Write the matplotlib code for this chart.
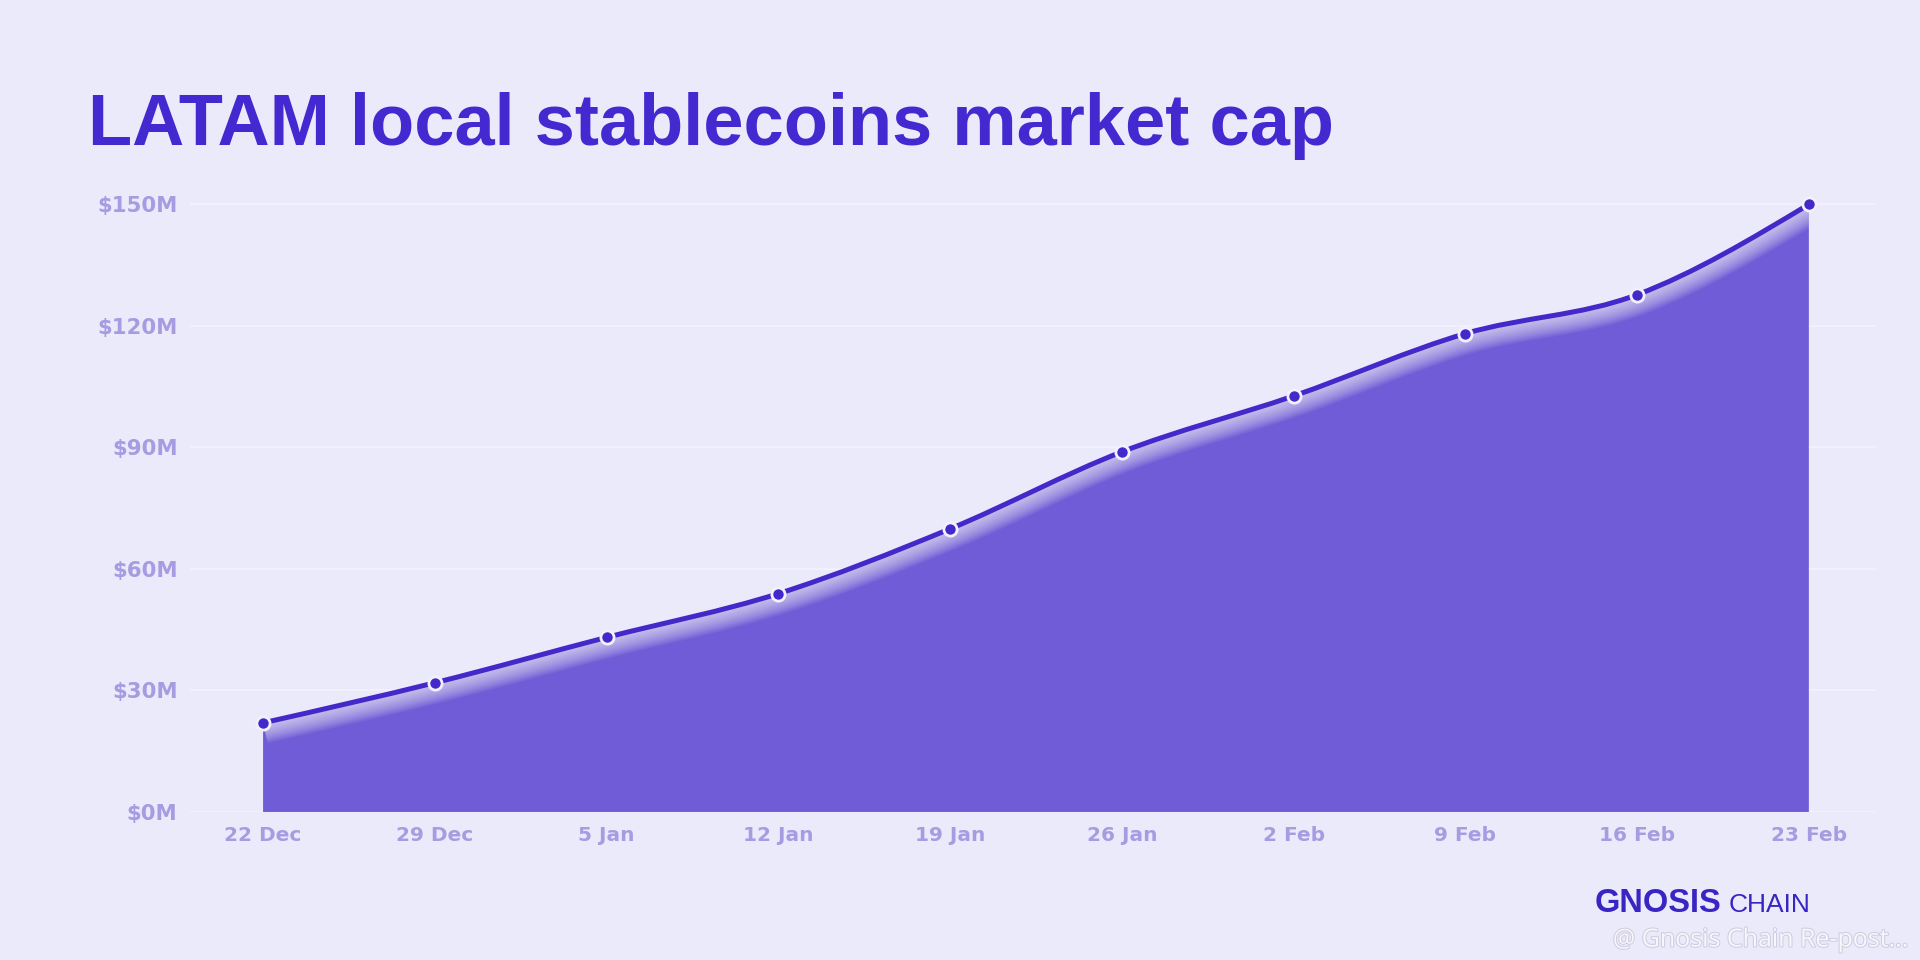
import numpy as np
import matplotlib
matplotlib.use("Agg")
import matplotlib.pyplot as plt
import matplotlib.patheffects as pe
from matplotlib.path import Path
from matplotlib.patches import PathPatch

# ---- data ----
dates = ["22 Dec", "29 Dec", "5 Jan", "12 Jan", "19 Jan", "26 Jan",
         "2 Feb", "9 Feb", "16 Feb", "23 Feb"]
market_cap_musd = [22.0, 31.9, 43.1, 53.9, 69.9, 88.9, 102.7, 118.1, 127.7, 150.0]
y_ticks = [0, 30, 60, 90, 120, 150]
y_tick_labels = ["$0M", "$30M", "$60M", "$90M", "$120M", "$150M"]
title = "LATAM local stablecoins market cap"

BG = "#ebeafb"
FILL = "#705cd6"
LINE = "#4428c9"
TICK = "#a79be2"
TITLE_C = "#4429d0"

x = np.arange(len(dates), dtype=float)
y = np.array(market_cap_musd, dtype=float)


def monotone_path(xs, ys):
    """Monotone cubic (d3 curveMonotoneX) as Bezier path vertices."""
    n = len(xs)
    h = np.diff(xs)
    s = np.diff(ys) / h
    m = np.zeros(n)
    for i in range(1, n - 1):
        p = (s[i - 1] * h[i] + s[i] * h[i - 1]) / (h[i - 1] + h[i])
        m[i] = (np.sign(s[i - 1]) + np.sign(s[i])) * min(abs(s[i - 1]), abs(s[i]), 0.5 * abs(p))
    m[0] = (3 * s[0] - m[1]) / 2 if n > 2 else s[0]
    m[-1] = (3 * s[-1] - m[-2]) / 2 if n > 2 else s[-1]
    verts = [(xs[0], ys[0])]
    codes = [Path.MOVETO]
    for i in range(n - 1):
        dx = h[i] / 3.0
        verts += [(xs[i] + dx, ys[i] + m[i] * dx),
                  (xs[i + 1] - dx, ys[i + 1] - m[i + 1] * dx),
                  (xs[i + 1], ys[i + 1])]
        codes += [Path.CURVE4] * 3
    return verts, codes


fig = plt.figure(figsize=(19.2, 9.6), dpi=100, facecolor=BG)
ax = fig.add_axes([0.099, 0.1542, 0.878, 0.654])
ax.set_facecolor(BG)

verts, codes = monotone_path(x, y)
line_path = Path(verts, codes)
fill_verts = verts + [(x[-1], 0), (x[0], 0), (x[0], y[0])]
fill_codes = codes + [Path.LINETO, Path.LINETO, Path.CLOSEPOLY]
fill_path = Path(fill_verts, fill_codes)

fill_patch = PathPatch(fill_path, facecolor=FILL, edgecolor="none", zorder=2)
ax.add_patch(fill_patch)

# soft glow under the line, clipped to the filled area
for w in np.linspace(30, 3, 16):
    glow = PathPatch(line_path, facecolor="none", edgecolor="white",
                     linewidth=w, alpha=0.06, zorder=3, capstyle="butt")
    ax.add_patch(glow)
    glow.set_clip_path(fill_patch)

ax.add_patch(PathPatch(line_path, facecolor="none", edgecolor=LINE,
                       linewidth=3.6, zorder=4, capstyle="round"))
ax.plot(x, y, linestyle="none", marker="o", markersize=9.5,
        markerfacecolor=LINE, markeredgecolor="#f2f0fd", markeredgewidth=2.0,
        zorder=5, clip_on=False)

ax.set_xlim(-0.425, 9.39)
ax.set_ylim(0, 155)
ax.set_yticks(y_ticks)
ax.set_yticklabels(y_tick_labels)
ax.set_xticks(x)
ax.set_xticklabels(dates)
ax.grid(axis="y", color="#f3f2fd", linewidth=1.2, zorder=1)
ax.tick_params(axis="both", length=0, labelcolor=TICK)
ax.tick_params(axis="y", pad=9, labelsize=15.3)
ax.tick_params(axis="x", pad=10, labelsize=14.5)
for lab in ax.get_xticklabels() + ax.get_yticklabels():
    lab.set_fontweight("bold")
    lab.set_family("DejaVu Sans")
for s in ax.spines.values():
    s.set_visible(False)

fig.text(0.046, 0.849, title, color=TITLE_C, fontsize=52, fontweight="bold",
         family="Liberation Sans", ha="left", va="baseline")

# branding
fig.text(0.8305, 0.0505, "GNOSIS", color="#3a25c4", fontsize=23.5, fontweight="bold",
         family="Liberation Sans", ha="left", va="baseline")
fig.text(0.9005, 0.0505, "CHAIN", color="#3a25c4", fontsize=19,
         family="Liberation Sans", ha="left", va="baseline")
fig.text(0.840, 0.014, "@ Gnosis Chain Re-post...", color="#f7f7fb", fontsize=18,
         family="Open Sans", ha="left", va="baseline",
         path_effects=[pe.withStroke(linewidth=1.5, foreground="#cfcde0")])

fig.savefig("out.png", dpi=100, facecolor=BG)
